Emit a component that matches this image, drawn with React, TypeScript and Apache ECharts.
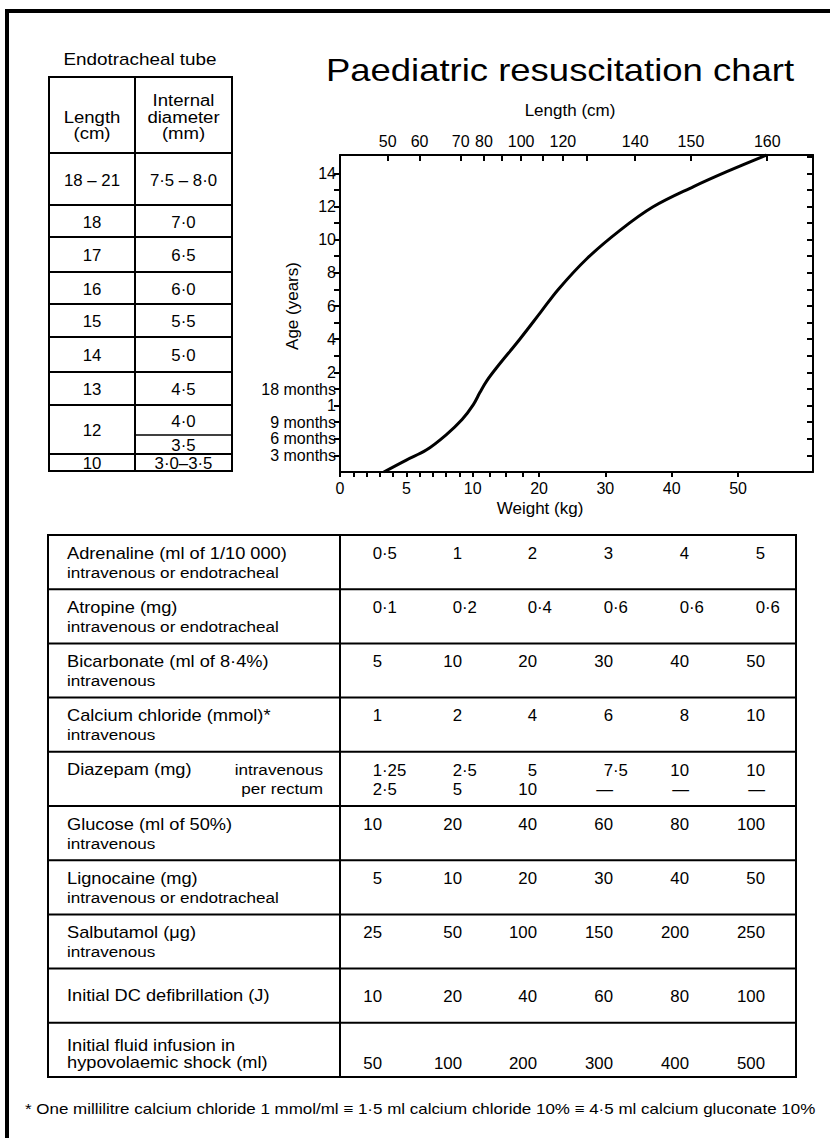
import React, { useEffect, useRef } from "react";
import * as echarts from "echarts";

// ---------- Endotracheal tube table ----------
const etLengths = ["18 – 21", "18", "17", "16", "15", "14", "13", "12", "10"];
const etDiameters = [["7·5 – 8·0"], ["7·0"], ["6·5"], ["6·0"], ["5·5"], ["5·0"], ["4·5"], ["4·0", "3·5"], ["3·0–3·5"]];

// ---------- Growth chart ----------
const weightTicks = [0, 1, 2, 3, 4, 5, 6, 7, 8, 9, 10, 12.5, 15, 17.5, 20, 30, 40, 50];
const weightLabels = [0, 5, 10, 20, 30, 40, 50];
const ageTicks = [0.25, 0.5, 0.75, 1, 1.5, 2, 3, 4, 5, 6, 7, 8, 9, 10, 11, 12, 13, 14];
const ageLabelValues = [0.25, 0.5, 0.75, 1, 1.5, 2, 4, 6, 8, 10, 12, 14];
const ageLabelTexts = ["3 months", "6 months", "9 months", "1", "18 months", "2", "4", "6", "8", "10", "12", "14"];
const lengthTicks = [50, 60, 70, 80, 90, 100, 110, 120, 130, 140, 150, 160];
const lengthTickWeights = [3.6, 6.0, 9.1, 11.7, 14.4, 17.3, 20.5, 23.6, 27.2, 34.5, 42.9, 54.4];
const lengthLabelled = [50, 60, 70, 80, 100, 120, 140, 150, 160];
const curveWeights = [3.3, 5.0, 6.5, 8.0, 9.2, 10.1, 11.1, 12.1, 13.6, 17.1, 20.2, 22.9, 27.2, 32.2, 37.2, 43.3, 48.3, 54.3];
const curveAges = [0, 0.18, 0.33, 0.56, 0.79, 1.03, 1.4, 1.74, 2.28, 4.0, 5.6, 7.0, 8.85, 10.56, 11.98, 13.2, 14.1, 15.1];

// ---------- Drug table ----------
const drugNames = [
  "Adrenaline (ml of 1/10 000)",
  "Atropine (mg)",
  "Bicarbonate (ml of 8·4%)",
  "Calcium chloride (mmol)*",
  "Diazepam (mg)",
  "Glucose (ml of 50%)",
  "Lignocaine (mg)",
  "Salbutamol (μg)",
  "Initial DC defibrillation (J)",
  "Initial fluid infusion in",
];
const drugRoutes = [
  "intravenous or endotracheal",
  "intravenous or endotracheal",
  "intravenous",
  "intravenous",
  "",
  "intravenous",
  "intravenous or endotracheal",
  "intravenous",
  "",
  "hypovolaemic shock (ml)",
];
const adrenalineMl = [0.5, 1, 2, 3, 4, 5];
const atropineMg = [0.1, 0.2, 0.4, 0.6, 0.6, 0.6];
const bicarbonateMl = [5, 10, 20, 30, 40, 50];
const calciumMmol = [1, 2, 4, 6, 8, 10];
const diazepamIv = [1.25, 2.5, 5, 7.5, 10, 10];
const diazepamPr = [2.5, 5, 10, null, null, null];
const glucoseMl = [10, 20, 40, 60, 80, 100];
const lignocaineMg = [5, 10, 20, 30, 40, 50];
const salbutamolUg = [25, 50, 100, 150, 200, 250];
const defibJ = [10, 20, 40, 60, 80, 100];
const fluidMl = [50, 100, 200, 300, 400, 500];
const footnote =
  "* One millilitre calcium chloride 1 mmol/ml ≡ 1·5 ml calcium chloride 10% ≡ 4·5 ml calcium gluconate 10%";

// ---------- scale transforms (chart uses expanded scales for infants) ----------
const wToU = (w: number) => (w <= 10 ? 2 * w : 10 + w);
const uToW = (u: number) => (u <= 20 ? u / 2 : u - 10);
const aToV = (a: number) => (a <= 1 ? 4 * a : a <= 2 ? 4 + 2 * (a - 1) : 6 + (a - 2));

const FONT = '"Liberation Sans", Arial, Helvetica, sans-serif';

function T(x: number, y: number, text: string, fs: number, opts: any = {}) {
  const align = opts.align ?? "left";
  const va = opts.va ?? "middle";
  return {
    type: "text",
    x,
    y,
    scaleX: opts.sx ?? 1,
    rotation: opts.rot ?? 0,
    silent: true,
    style: {
      text,
      x: 0,
      y: 0,
      fill: "#000",
      font: `normal ${fs}px ${FONT}`,
      align,
      verticalAlign: va,
      textAlign: align,
      textVerticalAlign: va,
    },
  };
}

function L(x1: number, y1: number, x2: number, y2: number, w = 2) {
  return {
    type: "line",
    silent: true,
    shape: { x1, y1, x2, y2 },
    style: { stroke: "#000", lineWidth: w },
  };
}

const fmt = (v: number | null) => (v === null ? "—" : String(v).replace(".", "·"));

function valueText(x: number, y: number, v: number | null, fs: number, sx: number) {
  const s = fmt(v);
  const i = s.indexOf("·");
  const intPart = i >= 0 ? s.slice(0, i) : s;
  const frac = i >= 0 ? s.slice(i) : "";
  const out: any[] = [T(x, y, intPart, fs, { align: "right", sx })];
  if (frac) out.push(T(x, y, frac, fs, { align: "left", sx }));
  return out;
}

function buildGraphics() {
  const g: any[] = [];
  // outer frame
  g.push({
    type: "rect",
    silent: true,
    shape: { x: 7, y: 11, width: 850, height: 1160 },
    style: { fill: "none", stroke: "#000", lineWidth: 4 },
  });

  // title
  g.push(T(560, 70, "Paediatric resuscitation chart", 32, { align: "center", sx: 1.14 }));

  // ET tube table
  const SX = 1.16;
  g.push(T(140, 60, "Endotracheal tube", 16, { align: "center", sx: 1.18 }));
  const etL = 49, etM = 135, etR = 232, etTop = 77;
  const etRowBottoms = [153, 205, 237, 272, 304, 337, 372, 405, 454, 471];
  g.push(L(etL, etTop, etR, etTop));
  etRowBottoms.forEach((y) => g.push(L(etL, y, etR, y, 2)));
  g.push(L(etL, etTop - 1, etL, 472));
  g.push(L(etM, etTop, etM, 471));
  g.push(L(etR, etTop - 1, etR, 472));
  g.push(L(etM, 435, etR, 435, 1.5));
  const cL = (etL + etM) / 2, cR = (etM + etR) / 2;
  g.push(T(cL, 117, "Length", 16, { align: "center", sx: SX }));
  g.push(T(cL, 133, "(cm)", 16, { align: "center", sx: SX }));
  g.push(T(cR, 100, "Internal", 16, { align: "center", sx: SX }));
  g.push(T(cR, 117, "diameter", 16, { align: "center", sx: SX }));
  g.push(T(cR, 133, "(mm)", 16, { align: "center", sx: SX }));
  etLengths.forEach((len, i) => {
    const top = etRowBottoms[i], bot = etRowBottoms[i + 1];
    g.push(T(cL, (top + bot) / 2 + 1, len, 16, { align: "center", sx: 1.05 }));
    const d = etDiameters[i];
    if (d.length === 1) {
      g.push(T(cR, (top + bot) / 2 + 1, d[0], 16, { align: "center", sx: 1.05 }));
    } else {
      g.push(T(cR, (top + 435) / 2 + 1, d[0], 16, { align: "center", sx: 1.05 }));
      g.push(T(cR, (435 + bot) / 2 + 1, d[1], 16, { align: "center", sx: 1.05 }));
    }
  });

  // axis titles
  g.push(T(570, 110, "Length (cm)", 17, { align: "center" }));
  g.push(T(540, 508, "Weight (kg)", 17, { align: "center" }));
  g.push(T(292, 306, "Age (years)", 17, { align: "center", rot: Math.PI / 2 }));

  // drug table
  const tL = 48, tR = 796, tTop = 535, rowH = 54.2, divX = 340;
  const anchors = [382, 462, 537, 613, 689, 765];
  const rows: (number | null)[][] = [
    adrenalineMl, atropineMg, bicarbonateMl, calciumMmol, diazepamIv,
    glucoseMl, lignocaineMg, salbutamolUg, defibJ, fluidMl,
  ];
  const tBot = tTop + rowH * rows.length;
  g.push(L(tL, tTop, tR, tTop));
  for (let i = 1; i <= rows.length; i++) g.push(L(tL, tTop + rowH * i, tR, tTop + rowH * i));
  g.push(L(tL, tTop - 1, tL, tBot + 1));
  g.push(L(divX, tTop, divX, tBot));
  g.push(L(tR, tTop - 1, tR, tBot + 1));

  const nameX = 67;
  rows.forEach((vals, i) => {
    const top = tTop + rowH * i;
    const name = drugNames[i];
    const route = drugRoutes[i];
    if (i === 4) {
      // Diazepam
      g.push(T(nameX, top + 18, name, 16, { sx: 1.14 }));
      g.push(T(323, top + 18, "intravenous", 15, { align: "right", sx: 1.14 }));
      g.push(T(323, top + 37, "per rectum", 15, { align: "right", sx: 1.14 }));
      diazepamIv.forEach((v, j) => g.push(...valueText(anchors[j], top + 18, v, 16, 1.05)));
      diazepamPr.forEach((v, j) => g.push(...valueText(anchors[j], top + 37, v, 16, 1.05)));
    } else if (i === 8) {
      g.push(T(nameX, top + rowH / 2, name, 16, { sx: 1.14 }));
      vals.forEach((v, j) => g.push(...valueText(anchors[j], top + rowH / 2, v, 16, 1.05)));
    } else if (i === 9) {
      g.push(T(nameX, top + 23, name, 16, { sx: 1.14 }));
      g.push(T(nameX, top + 40, route, 16, { sx: 1.14 }));
      vals.forEach((v, j) => g.push(...valueText(anchors[j], top + 40, v, 16, 1.05)));
    } else {
      g.push(T(nameX, top + 18, name, 16, { sx: 1.14 }));
      g.push(T(nameX, top + 37, route, 15, { sx: 1.14 }));
      vals.forEach((v, j) => g.push(...valueText(anchors[j], top + 18, v, 16, 1.05)));
    }
  });

  g.push(T(25, 1109, footnote, 14.5, { sx: 1.17 }));
  return g;
}

function nearestIndex(arr: number[], v: number) {
  let best = 0;
  for (let i = 1; i < arr.length; i++) if (Math.abs(arr[i] - v) < Math.abs(arr[best] - v)) best = i;
  return best;
}

function buildOption() {
  const U_MAX = 71.3;
  const V_MAX = 19.1;
  const axisLine = { show: true, onZero: false, lineStyle: { color: "#000", width: 2 } };
  const tickStyle = { color: "#000", width: 2 };
  const labelU = lengthLabelled.map((l) => wToU(lengthTickWeights[lengthTicks.indexOf(l)]));
  const ageV = ageLabelValues.map(aToV);
  return {
    animation: false,
    backgroundColor: "#fff",
    textStyle: { fontFamily: FONT },
    grid: { left: 340, top: 155, width: 473, height: 317, outerBoundsMode: "none", containLabel: false },
    xAxis: [
      {
        type: "value",
        position: "bottom",
        min: 0,
        max: U_MAX,
        axisLine,
        splitLine: { show: false },
        axisTick: { show: true, inside: false, length: 5, lineStyle: tickStyle, customValues: weightTicks.map(wToU) },
        axisLabel: {
          show: true,
          margin: 8,
          fontSize: 16,
          color: "#000",
          fontFamily: FONT,
          customValues: weightLabels.map(wToU),
          formatter: (v: number) => String(Math.round(uToW(v))),
        },
      },
      {
        type: "value",
        position: "top",
        min: 0,
        max: U_MAX,
        axisLine,
        splitLine: { show: false },
        axisTick: { show: true, inside: true, length: 6, lineStyle: tickStyle, customValues: lengthTickWeights.map(wToU) },
        axisLabel: {
          show: true,
          margin: 6,
          fontSize: 16,
          color: "#000",
          fontFamily: FONT,
          customValues: labelU,
          formatter: (v: number) => String(lengthLabelled[nearestIndex(labelU, v)]),
        },
      },
    ],
    yAxis: [
      {
        type: "value",
        position: "left",
        min: 0,
        max: V_MAX,
        axisLine,
        splitLine: { show: false },
        axisTick: { show: true, inside: false, length: 6, lineStyle: tickStyle, customValues: ageTicks.map(aToV) },
        axisLabel: {
          show: true,
          margin: 4,
          fontSize: 16,
          color: "#000",
          fontFamily: FONT,
          customValues: ageV,
          formatter: (v: number) => ageLabelTexts[nearestIndex(ageV, v)],
        },
      },
      {
        type: "value",
        position: "right",
        min: 0,
        max: V_MAX,
        interval: 1,
        axisLine,
        splitLine: { show: false },
        axisTick: { show: true, inside: true, length: 6, lineStyle: tickStyle },
        axisLabel: { show: false },
      },
    ],
    series: [
      {
        type: "line",
        xAxisIndex: 0,
        yAxisIndex: 0,
        data: curveWeights.map((w, i) => [wToU(w), aToV(curveAges[i])]),
        smooth: 0.35,
        showSymbol: false,
        symbol: "none",
        silent: true,
        lineStyle: { color: "#000", width: 3 },
      },
    ],
    graphic: { elements: buildGraphics() },
  };
}

export default function App() {
  const ref = useRef<HTMLDivElement>(null);
  useEffect(() => {
    const chart = echarts.init(ref.current!, null, { renderer: "svg" });
    chart.setOption(buildOption() as any);
    return () => chart.dispose();
  }, []);
  return (
    <div
      ref={ref}
      style={{ position: "absolute", left: 0, top: 0, width: 830, height: 1138, background: "#fff" }}
    />
  );
}
